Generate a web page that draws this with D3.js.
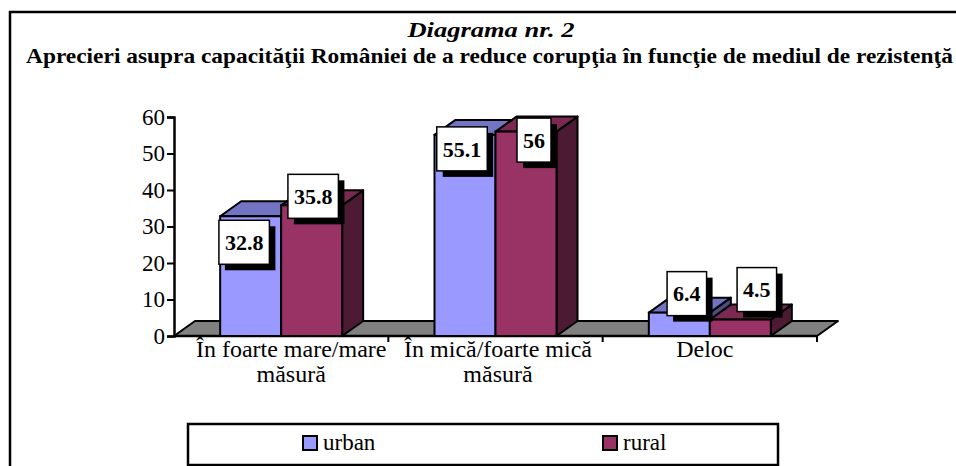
<!DOCTYPE html>
<html><head><meta charset="utf-8">
<script src="https://cdn.jsdelivr.net/npm/d3@7"></script>
<style>
html,body{margin:0;padding:0;background:#fff;}
svg{display:block;}
</style></head>
<body><svg id="c" width="956" height="466"></svg>
<script>
const categories = [["În foarte mare/mare","măsură"],["În mică/foarte mică","măsură"],["Deloc"]];
const seriesNames = ["urban","rural"];
const urban = [32.8, 55.1, 6.4];
const rural = [35.8, 56, 4.5];
const yTicks = [0,10,20,30,40,50,60];
const titleText = "Diagrama nr. 2";
const subtitleText = "Aprecieri asupra capacităţii României de a reduce corupţia în funcţie de mediul de rezistenţă";

// styling / layout (not data)
const FF = "Liberation Serif";
const colors = {
  urban: {front:"#9999FF", top:"#7373C4", side:"#4D4D80"},
  rural: {front:"#993366", top:"#7A2952", side:"#4D1A33"}
};
const labelNudge = { urban: [[-6.5,26],[-3,14],[7.5,-19]], rural: [[1.5,-9],[8,8.5],[16.5,-30]] };
const catLabelNudge = [10, 2.5, -5];
const DX = 21, DY = 15;

const svg = d3.select("#c");
const txt = (sel)=>sel.style("font-family",FF).attr("fill","#000");

svg.append("rect").attr("x",10).attr("y",12).attr("width",970).attr("height",480)
  .attr("fill","none").attr("stroke","#000").attr("stroke-width",2.5);

txt(svg.append("text")).attr("x",491).attr("y",37).attr("text-anchor","middle")
  .style("font-size","22px").style("font-weight","bold").style("font-style","italic")
  .attr("textLength",167).attr("lengthAdjust","spacingAndGlyphs").text(titleText);
txt(svg.append("text")).attr("x",489.5).attr("y",63).attr("text-anchor","middle")
  .style("font-size","21px").style("font-weight","bold")
  .attr("textLength",927).attr("lengthAdjust","spacingAndGlyphs").text(subtitleText);

const x0 = 174, x1 = 817, y0 = 336, yTop = 117;
const y = d3.scaleLinear().domain([0,60]).range([y0,yTop]);
const xBand = d3.scaleBand().domain(d3.range(categories.length)).range([x0,x1]);
const xSub = d3.scaleBand().domain(seriesNames).range([0,122]);
const barOffset = (xBand.bandwidth()-122)/2;
const pts = a=>a.map(p=>p.join(",")).join(" ");

// floor
svg.append("polygon")
  .attr("points",pts([[x0,y0],[x1,y0],[x1+DX,y0-DY],[x0+DX,y0-DY]]))
  .attr("fill","#808080").attr("stroke","#000").attr("stroke-width",2).attr("stroke-linejoin","round");

// y axis
const yAxis = d3.axisLeft(y).tickValues(yTicks).tickSize(7).tickPadding(2);
const ga = svg.append("g").attr("transform",`translate(${x0},0)`).call(yAxis);
ga.attr("font-family",FF);
ga.select(".domain").attr("stroke","#000").attr("stroke-width",2.5);
ga.selectAll(".tick line").attr("stroke","#000").attr("stroke-width",2);
ga.selectAll(".tick text").style("font-size","23px").style("font-family",FF).attr("fill","#000");

// x axis line and ticks
svg.append("line").attr("x1",x0).attr("x2",x1).attr("y1",y0).attr("y2",y0).attr("stroke","#000").attr("stroke-width",2.5);
d3.range(1,categories.length+1).forEach(i=>{
  const xx = i<categories.length ? xBand(i) : x1;
  svg.append("line").attr("x1",xx).attr("x2",xx).attr("y1",y0).attr("y2",y0+6).attr("stroke","#000").attr("stroke-width",2);
});

// bars
const series = [{name:"urban",values:urban},{name:"rural",values:rural}];
const gb = svg.append("g");
categories.forEach((c,i)=>{
  series.forEach(s=>{
    const v = s.values[i];
    const bx0 = xBand(i)+barOffset+xSub(s.name), bx1 = bx0+xSub.bandwidth();
    const ty = y(v);
    const col = colors[s.name];
    gb.append("polygon").attr("points",pts([[bx1,ty],[bx1+DX,ty-DY],[bx1+DX,y0-DY],[bx1,y0]]))
      .attr("fill",col.side).attr("stroke","#000").attr("stroke-width",2).attr("stroke-linejoin","round");
    gb.append("polygon").attr("points",pts([[bx0,ty],[bx0+DX,ty-DY],[bx1+DX,ty-DY],[bx1,ty]]))
      .attr("fill",col.top).attr("stroke","#000").attr("stroke-width",2).attr("stroke-linejoin","round");
    gb.append("rect").attr("x",bx0).attr("y",ty).attr("width",bx1-bx0).attr("height",y0-ty)
      .attr("fill",col.front).attr("stroke","#000").attr("stroke-width",2);
  });
});

// data labels
categories.forEach((c,i)=>{
  series.forEach(s=>{
    const v = s.values[i];
    const bx0 = xBand(i)+barOffset+xSub(s.name);
    const cx = bx0+xSub.bandwidth()/2 + labelNudge[s.name][i][0];
    const cy = y(v) + labelNudge[s.name][i][1];
    const g = svg.append("g");
    const t = txt(g.append("text")).attr("x",cx).attr("y",cy).attr("dy","0.35em").attr("text-anchor","middle")
      .style("font-size","22px").style("font-weight","bold").text(String(v));
    const w = t.node().getComputedTextLength()+12, h = 44;
    g.insert("rect","text").attr("x",cx-w/2+6).attr("y",cy-h/2+6).attr("width",w).attr("height",h).attr("fill","#000");
    g.insert("rect","text").attr("x",cx-w/2).attr("y",cy-h/2).attr("width",w).attr("height",h)
      .attr("fill","#fff").attr("stroke","#000").attr("stroke-width",1.5);
  });
});

// category labels
categories.forEach((lines,i)=>{
  const cx = xBand(i)+xBand.bandwidth()/2 + catLabelNudge[i];
  lines.forEach((ln,j)=>{
    txt(svg.append("text")).attr("x",cx).attr("y",357+25*j).attr("text-anchor","middle")
      .style("font-size","24px").text(ln);
  });
});

// legend
svg.append("rect").attr("x",188).attr("y",424).attr("width",590).attr("height",41)
  .attr("fill","#fff").attr("stroke","#000").attr("stroke-width",2.5);
const legX = [303, 603];
series.forEach((s,k)=>{
  svg.append("rect").attr("x",legX[k]).attr("y",436).attr("width",14).attr("height",14)
    .attr("fill",colors[s.name].front).attr("stroke","#000").attr("stroke-width",2);
  txt(svg.append("text")).attr("x",legX[k]+20).attr("y",450).style("font-size","23px").text(s.name);
});
</script></body></html>
